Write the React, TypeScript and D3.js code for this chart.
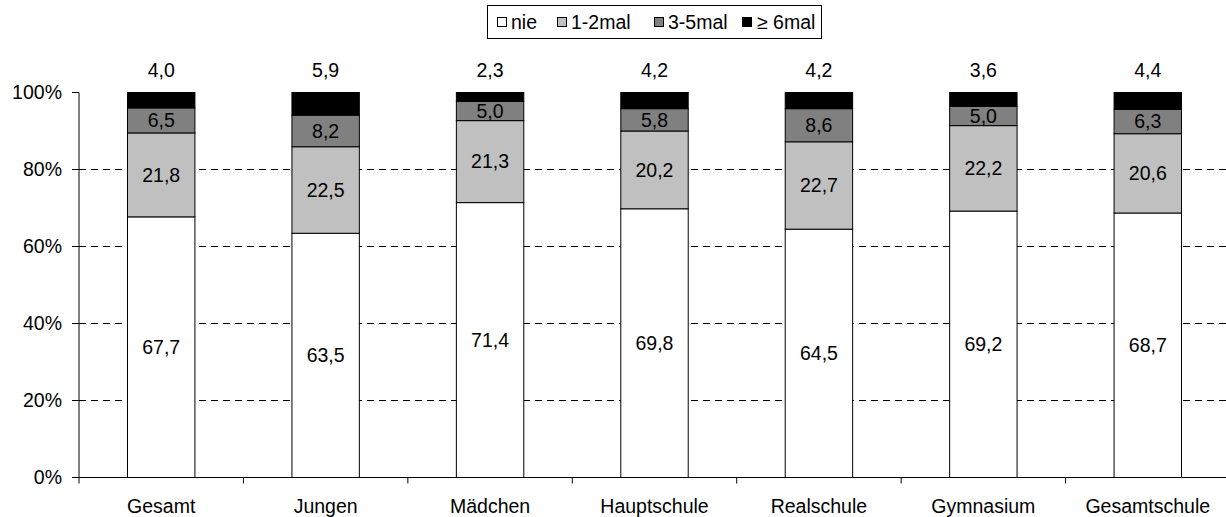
import React from "react";
import * as d3 from "d3";

const categories = ["Gesamt", "Jungen", "Mädchen", "Hauptschule", "Realschule", "Gymnasium", "Gesamtschule"];
const seriesNames = ["nie", "1-2mal", "3-5mal", "≥ 6mal"];
const nie = [67.7, 63.5, 71.4, 69.8, 64.5, 69.2, 68.7];
const mal12 = [21.8, 22.5, 21.3, 20.2, 22.7, 22.2, 20.6];
const mal35 = [6.5, 8.2, 5.0, 5.8, 8.6, 5.0, 6.3];
const mal6 = [4.0, 5.9, 2.3, 4.2, 4.2, 3.6, 4.4];
const yTicks = [0, 20, 40, 60, 80, 100];
const colors = ["#FFFFFF", "#C0C0C0", "#808080", "#000000"];

const W = 1226, H = 517;
const left = 79, right = 1230, top = 92.5, bottom = 477.5;
const FONT = "'Liberation Sans', Arial, sans-serif";
const FS = 19.5;

export default function App() {
  const series = [nie, mal12, mal35, mal6];
  const x = d3.scaleBand<string>().domain(categories).range([left, right]).paddingInner(0.59).paddingOuter(0.295);
  const y = d3.scaleLinear().domain([0, 100]).range([bottom, top]);
  const step = x.step();
  const fmt = (v: number) => v.toFixed(1).replace(".", ",");

  const rows = categories.map((c, i) => {
    const obj: any = { cat: c };
    const total = series.reduce((s, arr) => s + arr[i], 0);
    series.forEach((arr, k) => (obj[k] = (arr[i] / total) * 100));
    return obj;
  });
  const stack = d3.stack<any>().keys(["0", "1", "2", "3"]);
  const stacked = stack(rows);

  const legendItems = [
    { x: 497, tx: 511 },
    { x: 557, tx: 571 },
    { x: 654, tx: 668 },
    { x: 742, tx: 757 },
  ];

  return (
    <svg width={W} height={H} style={{ position: "absolute", left: 0, top: 0, background: "#fff" }} fontFamily={FONT}>
      <rect x={0} y={0} width={W} height={H} fill="#fff" />
      {/* gridlines */}
      {yTicks.filter((t) => t > 0 && t < 100).map((t) => (
        <line key={t} x1={left} x2={right} y1={y(t)} y2={y(t)} stroke="#000" strokeWidth={1} strokeDasharray="7,5" />
      ))}
      {/* bars */}
      {stacked.map((layer, k) =>
        layer.map((d, i) => (
          <rect
            key={k + "-" + i}
            x={x(categories[i])!}
            y={y(d[1])}
            width={x.bandwidth()}
            height={y(d[0]) - y(d[1])}
            fill={colors[k]}
            stroke="#000"
            strokeWidth={1}
          />
        ))
      )}
      {/* segment labels */}
      {stacked.map((layer, k) =>
        layer.map((d, i) => {
          const cx = x(categories[i])! + x.bandwidth() / 2;
          const val = series[k][i];
          const cy = k === 3 ? y(100) - 22 : (y(d[0]) + y(d[1])) / 2;
          return (
            <text key={"l" + k + "-" + i} x={cx} y={cy} dy="0.35em" textAnchor="middle" fontSize={FS} fill="#000">
              {fmt(val)}
            </text>
          );
        })
      )}
      {/* y axis */}
      <line x1={left} x2={left} y1={top} y2={bottom} stroke="#000" strokeWidth={1} />
      {yTicks.map((t) => (
        <g key={"yt" + t}>
          <line x1={left - 7} x2={left} y1={y(t)} y2={y(t)} stroke="#000" />
          <text x={62} y={y(t)} dy="0.35em" textAnchor="end" fontSize={FS} fill="#000">
            {t}%
          </text>
        </g>
      ))}
      {/* x axis */}
      <line x1={left} x2={right} y1={bottom} y2={bottom} stroke="#000" strokeWidth={1} />
      {categories.map((c, i) => (
        <g key={"xt" + c}>
          <line x1={left + i * step} x2={left + i * step} y1={bottom} y2={bottom + 6} stroke="#000" />
          <text x={x(c)! + x.bandwidth() / 2} y={513} textAnchor="middle" fontSize={FS} fill="#000">
            {c}
          </text>
        </g>
      ))}
      {/* legend */}
      <rect x={487.5} y={5.5} width={334} height={33} fill="#fff" stroke="#000" strokeWidth={1} />
      {seriesNames.map((n, k) => (
        <g key={"lg" + n}>
          <rect x={legendItems[k].x + 0.5} y={17.5} width={9} height={9} fill={colors[k]} stroke="#000" />
          <text x={legendItems[k].tx} y={22} dy="0.35em" fontSize={FS} fill="#000">
            {n}
          </text>
        </g>
      ))}
    </svg>
  );
}
